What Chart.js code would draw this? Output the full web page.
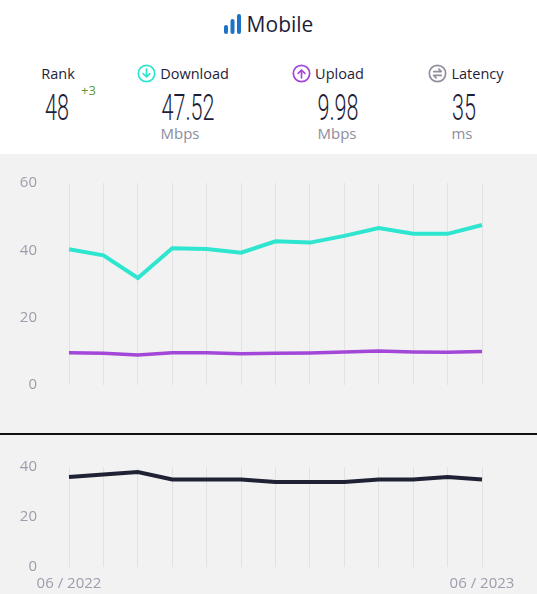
<!DOCTYPE html>
<html>
<head>
<meta charset="utf-8">
<script src="https://cdn.jsdelivr.net/npm/chart.js@4.4.0/dist/chart.umd.min.js"></script>
<style>
  html, body { margin: 0; padding: 0; }
  body { width: 537px; height: 594px; position: relative; overflow: hidden; background: #fff; font-family: "Open Sans", sans-serif; color: #1d1d3a; }
  .abs { position: absolute; }
  .title { left: 0; width: 537px; top: 10px; text-align: center; font-size: 21px; }
  .title svg { vertical-align: -2px; margin-right: 6px; }
  .lbl { font-size: 14.5px; white-space: nowrap; text-align: center; top: 64px; }
  .lbl svg { vertical-align: -4px; margin-right: 4px; }
  .big { top: 87px; font-family: Roboto, sans-serif; font-weight: 300; font-size: 36px; text-align: center; width: 120px; transform: scaleX(0.6); }
  .unit { top: 123px; font-size: 15px; color: #8d8d9d; text-align: center; width: 100px; }
  .panel { left: 0; top: 154px; width: 537px; height: 440px; background: #f2f2f2; }
  .rule { left: 0; top: 433px; width: 537px; height: 1.5px; background: #111; }
  .box { position: absolute; left: 0; width: 537px; }
</style>
</head>
<body>
<div class="abs panel"></div>

<div class="abs title"><svg width="17" height="20" viewBox="0 0 17 20"><rect x="0" y="11" width="4" height="9" rx="2" fill="#1a73c8"/><rect x="6.5" y="5" width="4" height="15" rx="2" fill="#1a73c8"/><rect x="13" y="0" width="4" height="20" rx="2" fill="#1a73c8"/></svg>Mobile</div>

<div class="abs lbl" style="left:18px;width:80px;">Rank</div>
<div class="abs" style="left:81px;top:81px;font-size:13px;color:#5d9a3c;">+3</div>
<div class="abs big" style="left:-3px;">48</div>

<div class="abs lbl" style="left:123px;width:120px;"><svg width="19" height="19" viewBox="0 0 20 20"><circle cx="10" cy="10" r="8.6" fill="none" stroke="#2ee6d0" stroke-width="1.8"/><path d="M10 5.5v8M6.5 10.2l3.5 3.5 3.5-3.5" fill="none" stroke="#2ee6d0" stroke-width="1.8" stroke-linecap="round" stroke-linejoin="round"/></svg>Download</div>
<div class="abs big" style="left:128px;">47.52</div>
<div class="abs unit" style="left:130px;">Mbps</div>

<div class="abs lbl" style="left:268px;width:120px;"><svg width="19" height="19" viewBox="0 0 20 20"><circle cx="10" cy="10" r="8.6" fill="none" stroke="#a347d9" stroke-width="1.8"/><path d="M10 14.5v-8M6.5 9.8l3.5-3.5 3.5 3.5" fill="none" stroke="#a347d9" stroke-width="1.8" stroke-linecap="round" stroke-linejoin="round"/></svg>Upload</div>
<div class="abs big" style="left:278px;">9.98</div>
<div class="abs unit" style="left:287px;">Mbps</div>

<div class="abs lbl" style="left:406px;width:120px;"><svg width="19" height="19" viewBox="0 0 20 20"><circle cx="10" cy="10" r="8.6" fill="none" stroke="#8f8f9f" stroke-width="1.8"/><path d="M6 8h8l-2.5-2.5M14 12H6l2.5 2.5" fill="none" stroke="#8f8f9f" stroke-width="1.8" stroke-linecap="round" stroke-linejoin="round"/></svg>Latency</div>
<div class="abs big" style="left:404px;">35</div>
<div class="abs unit" style="left:412px;">ms</div>

<div class="box" style="top:154px;height:279px;"><canvas id="speed"></canvas></div>
<div class="abs rule"></div>
<div class="box" style="top:435px;height:169px;"><canvas id="latency"></canvas></div>

<script>
const months = ["06 / 2022", "07 / 2022", "08 / 2022", "09 / 2022", "10 / 2022", "11 / 2022", "12 / 2022",
  "01 / 2023", "02 / 2023", "03 / 2023", "04 / 2023", "05 / 2023", "06 / 2023"];
const download = [40.3, 38.5, 31.8, 40.6, 40.4, 39.3, 42.7, 42.3, 44.3, 46.6, 44.9, 44.9, 47.52];
const upload = [9.6, 9.4, 8.9, 9.6, 9.6, 9.3, 9.4, 9.5, 9.8, 10.1, 9.8, 9.7, 9.98];
const latency = [36, 37, 38, 35, 35, 35, 34, 34, 34, 35, 35, 36, 35];
const speedTicks = [0, 20, 40, 60];
const latencyTicks = [0, 20, 40];

const tickFont = { family: "Open Sans", size: 15 };
const tickColor = "#9d9dad";

// hidden tick marks push the labels left without adding top/bottom padding
const yAxis = (max) => ({
  min: 0, max: max,
  ticks: { stepSize: 20, color: tickColor, font: tickFont, padding: 4 },
  grid: { display: false, drawTicks: true, tickLength: 28 },
  border: { display: false },
  afterFit: (s) => { s.width = 69; }
});

const line = (data, color, w) => ({
  data: data, borderColor: color, borderWidth: w, pointRadius: 0, tension: 0, fill: false
});

new Chart(document.getElementById("speed"), {
  type: "line",
  data: { labels: months, datasets: [line(download, "#2ee6d0", 4), line(upload, "#a347d9", 3.5)] },
  options: {
    responsive: true, maintainAspectRatio: false, animation: false,
    layout: { padding: { top: 29, right: 55, bottom: 48, left: 0 } },
    plugins: { legend: { display: false }, tooltip: { enabled: false } },
    scales: {
      x: { ticks: { display: false }, grid: { color: "#e2e2e2", drawTicks: false }, border: { display: false } },
      y: yAxis(speedTicks[speedTicks.length - 1])
    }
  }
});

new Chart(document.getElementById("latency"), {
  type: "line",
  data: { labels: months, datasets: [line(latency, "#1f2235", 4)] },
  options: {
    responsive: true, maintainAspectRatio: false, animation: false,
    layout: { padding: { top: 32, right: 55, bottom: 3, left: 0 } },
    plugins: { legend: { display: false }, tooltip: { enabled: false } },
    scales: {
      x: {
        ticks: {
          color: tickColor, font: tickFont, padding: 8, autoSkip: false, maxRotation: 0,
          callback: (v, i) => (i === 0 || i === months.length - 1) ? months[i] : ""
        },
        grid: { color: "#e2e2e2", drawTicks: false },
        border: { display: false }
      },
      y: yAxis(latencyTicks[latencyTicks.length - 1])
    }
  }
});
</script>
</body>
</html>
